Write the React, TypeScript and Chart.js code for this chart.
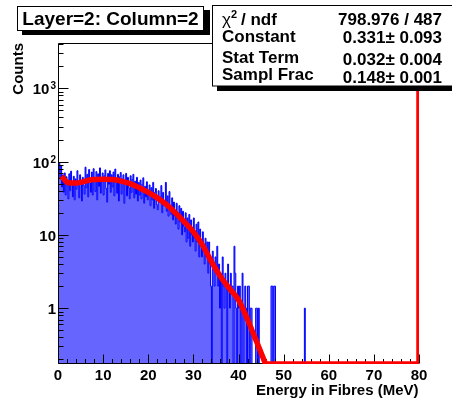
import { useEffect, useRef } from 'react';
import { Chart, registerables } from 'chart.js';
Chart.register(...registerables);

// ---------- data ----------
const BIN_WIDTH = 0.2; // MeV
const X_MIN = 0;
const X_MAX = 80;
const Y_MIN = 0.173;
const Y_MAX = 4150;

// histogram contents, bin i covers [i*BIN_WIDTH, (i+1)*BIN_WIDTH); bins above are empty
const counts = [
  72, 96, 58, 88, 45, 66, 38, 70, 35, 62,
  48, 31, 68, 40, 74, 52, 33, 63, 30, 58,
  42, 75, 50, 32, 66, 55, 29, 61, 47, 36,
  84, 44, 67, 33, 78, 51, 38, 72, 35, 80,
  57, 39, 73, 30, 68, 46, 82, 37, 60, 70,
  35, 64, 77, 43, 28, 69, 49, 75, 38, 66,
  45, 72, 34, 79, 53, 37, 67, 29, 62, 71,
  36, 58, 66, 27, 55, 69, 34, 61, 44, 31,
  64, 38, 57, 67, 32, 54, 36, 61, 29, 52,
  35, 56, 31, 49, 60, 27, 46, 33, 53, 30,
  41, 48, 25, 44, 30, 52, 23, 38, 43, 26,
  22, 40, 28, 33, 47, 20, 38, 25, 29, 52,
  21, 34, 18, 39, 24, 19, 32, 16, 28, 18,
  14, 27, 17, 12, 25, 15, 23, 10, 21, 13,
  11, 20, 8, 17, 9, 19, 7, 16, 10, 8,
  17, 9, 6, 14, 8, 15, 5, 12, 7, 5,
  11, 6, 4, 9, 5, 8, 3, 8, 4, 2,
  0, 6, 4, 2, 5, 3, 7, 2, 4, 1,
  3, 0, 5, 2, 1, 3, 2, 0, 4, 2,
  1, 3, 2, 2, 0, 7, 3, 1, 0, 2,
  1, 2, 0, 1, 3, 0, 1, 2, 1, 0,
  2, 2, 0, 1, 1, 0, 0, 0, 0, 1,
  1, 0, 1, 0, 0, 0, 0, 0, 0, 0,
  0, 0, 0, 0, 0, 0, 2, 2, 0, 2,
  2, 0, 0, 0, 0, 0, 0, 0, 0, 0,
  0, 0, 0, 0, 0, 0, 0, 0, 0, 0,
  0, 0, 0, 0, 0, 0, 0, 0, 0, 0,
  0, 0, 0, 1,
];

// fitted function (red curve)
const fitX = [0.8, 1.5, 2, 3, 4, 5, 6, 7, 8, 10, 12, 13, 14, 16, 18, 20, 22, 24, 26, 28, 30, 32, 34, 36, 38, 40, 42, 44, 46];
const fitY = [63, 56, 52, 51, 51, 52, 54, 56, 57, 57.5, 57, 56, 54, 50, 44, 38, 32, 26, 20, 15, 11, 7.3, 4.3, 2.7, 1.85, 1.3, 0.7, 0.35, 0.173];
// function clipped at the frame beyond the fit (runs along bottom, then up the right edge)
const tailX = [46, 80, 80];
const tailY = [Y_MIN, Y_MIN, 1e5];

const xTicks = [0, 10, 20, 30, 40, 50, 60, 70, 80];
const X_MINOR_STEP = 2;
const yTicks = [1, 10, 100, 1000];
const yTickBase = ['1', '10', '10', '10'];
const yTickExp = ['', '', '2', '3'];

const titleText = 'Layer=2: Column=2';
const xTitle = 'Energy in Fibres (MeV)';
const yTitle = 'Counts';
const statLabels = ['/ ndf', 'Constant', 'Stat Term', 'Sampl Frac'];
const statValues = ['798.976 / 487', '0.331\u00b1 0.093', '0.032\u00b1 0.004', '0.148\u00b1 0.001'];

// ---------- drawing ----------
const FONT = '"Liberation Sans", Arial, Helvetica, sans-serif';

function drawFrame(chart: any) {
  const { ctx, chartArea: a } = chart;
  const xs = chart.scales.x;
  const ys = chart.scales.y;
  const L = a.left + 0.5, T = a.top + 0.5, B = a.bottom - 0.5, R = a.right - 0.5;
  ctx.save();
  ctx.strokeStyle = '#000';
  ctx.lineWidth = 1;
  ctx.beginPath();
  ctx.moveTo(R, T); ctx.lineTo(L, T); ctx.lineTo(L, B); ctx.lineTo(R, B); ctx.lineTo(R, T);
  for (let v = X_MIN; v <= X_MAX + 1e-9; v += X_MINOR_STEP) {
    const px = Math.round(xs.getPixelForValue(v)) + 0.5;
    const major = Math.abs(v / 10 - Math.round(v / 10)) < 1e-6;
    ctx.moveTo(px, B);
    ctx.lineTo(px, B - (major ? 9 : 4.5));
  }
  for (let e = -1; e <= 3; e++) {
    for (let m = 1; m <= 9; m++) {
      const v = m * Math.pow(10, e);
      if (v < Y_MIN || v > Y_MAX) continue;
      const py = Math.round(ys.getPixelForValue(v)) + 0.5;
      ctx.moveTo(L, py);
      ctx.lineTo(L + (m === 1 ? 10 : 5), py);
    }
  }
  ctx.stroke();
  ctx.restore();
}

function drawLabels(chart: any) {
  const { ctx } = chart;
  const xs = chart.scales.x;
  const ys = chart.scales.y;
  ctx.save();
  ctx.fillStyle = '#000';
  // x tick labels
  ctx.font = `bold 15px ${FONT}`;
  ctx.textAlign = 'center';
  ctx.textBaseline = 'alphabetic';
  xTicks.forEach((v) => ctx.fillText(String(v), xs.getPixelForValue(v), 380));
  // y tick labels
  yTicks.forEach((v, i) => {
    const py = ys.getPixelForValue(v);
    const right = 56;
    ctx.textAlign = 'left';
    ctx.font = `bold 10px ${FONT}`;
    const ew = yTickExp[i] ? ctx.measureText(yTickExp[i]).width : 0;
    ctx.font = `bold 15px ${FONT}`;
    const bw = ctx.measureText(yTickBase[i]).width;
    const x0 = right - ew - bw - (yTickExp[i] ? 1 : 0);
    ctx.fillText(yTickBase[i], x0, py + 6);
    if (yTickExp[i]) {
      ctx.font = `bold 10px ${FONT}`;
      ctx.fillText(yTickExp[i], x0 + bw + 1, py + 1);
    }
  });
  // axis titles
  ctx.font = `bold 15px ${FONT}`;
  ctx.textAlign = 'right';
  ctx.fillText(xTitle, 418.5, 395);
  ctx.save();
  ctx.translate(23.3, 43);
  ctx.rotate(-Math.PI / 2);
  ctx.textAlign = 'right';
  ctx.fillText(yTitle, 0, 0);
  ctx.restore();

  // title box
  ctx.fillStyle = '#000';
  ctx.fillRect(22, 10, 188, 25);
  ctx.fillStyle = '#fff';
  ctx.fillRect(17, 6, 187, 25);
  ctx.strokeStyle = '#000';
  ctx.lineWidth = 1;
  ctx.strokeRect(17.5, 6.5, 186, 24);
  ctx.fillStyle = '#000';
  ctx.font = `bold 19px ${FONT}`;
  ctx.textAlign = 'center';
  ctx.fillText(titleText, 110.5, 25);

  // stats box
  ctx.fillStyle = '#000';
  ctx.fillRect(217, 10, 240, 81);
  ctx.fillStyle = '#fff';
  ctx.fillRect(212, 5, 245, 81);
  ctx.strokeRect(212.5, 5.5, 245, 80.5);
  ctx.fillStyle = '#000';
  const labelBase = [25, 42, 63, 80];
  const valueBase = [25, 43, 65, 83];
  // chi2 row
  ctx.textAlign = 'left';
  ctx.font = `17px ${FONT}`;
  ctx.fillText('\u03c7', 222, 25);
  let cx = 222 + ctx.measureText('\u03c7').width;
  ctx.font = `bold 11px ${FONT}`;
  ctx.fillText('2', cx, 18);
  cx += ctx.measureText('2').width + 4;
  ctx.font = `bold 17px ${FONT}`;
  ctx.fillText(statLabels[0], cx, labelBase[0]);
  for (let i = 1; i < statLabels.length; i++) ctx.fillText(statLabels[i], 222, labelBase[i]);
  ctx.textAlign = 'right';
  statValues.forEach((s, i) => ctx.fillText(s, 442, valueBase[i]));
  ctx.restore();
}

const decor = {
  id: 'decor',
  beforeDatasetDraw(chart: any, args: any) {
    if (args.index === 1) drawFrame(chart);
  },
  afterDraw(chart: any) {
    drawLabels(chart);
  },
};

export default function App() {
  const ref = useRef<HTMLCanvasElement>(null);
  useEffect(() => {
    const canvas = ref.current!;
    const histData = counts.map((c, i) => ({ x: i * BIN_WIDTH, y: c > 0 ? c : Y_MIN }));
    histData.push({ x: counts.length * BIN_WIDTH, y: Y_MIN });
    histData.push({ x: X_MAX, y: Y_MIN });
    const fitData = fitX.map((x, i) => ({ x, y: fitY[i] }));
    const tailData = tailX.map((x, i) => ({ x, y: tailY[i] }));
    const chart = new Chart(canvas, {
      type: 'line',
      data: {
        datasets: [
          { data: tailData, borderColor: '#ff0000', borderWidth: 5.5, pointRadius: 0, tension: 0, clip: 0, fill: false },
          { data: fitData, borderColor: '#ff0000', borderWidth: 5.5, pointRadius: 0, cubicInterpolationMode: 'monotone', clip: 0, fill: false },
          { data: histData, borderColor: '#0000ff', borderWidth: 1, backgroundColor: 'rgb(102,102,255)', fill: 'start', stepped: true, pointRadius: 0, clip: 0 },
        ],
      } as any,
      options: {
        animation: false,
        responsive: false,
        devicePixelRatio: 1,
        events: [],
        layout: { padding: { left: 58, top: 43, right: 33, bottom: 35 } },
        scales: {
          x: { type: 'linear', min: X_MIN, max: X_MAX, display: false },
          y: { type: 'logarithmic', min: Y_MIN, max: Y_MAX, display: false },
        },
        plugins: { legend: { display: false }, tooltip: { enabled: false }, title: { display: false } },
      } as any,
      plugins: [decor],
    });
    return () => chart.destroy();
  }, []);
  return (
    <div style={{ position: 'absolute', left: 0, top: 0, width: 452, height: 399, background: '#fff' }}>
      <canvas ref={ref} width={452} height={399} style={{ width: 452, height: 399, display: 'block' }} />
    </div>
  );
}
